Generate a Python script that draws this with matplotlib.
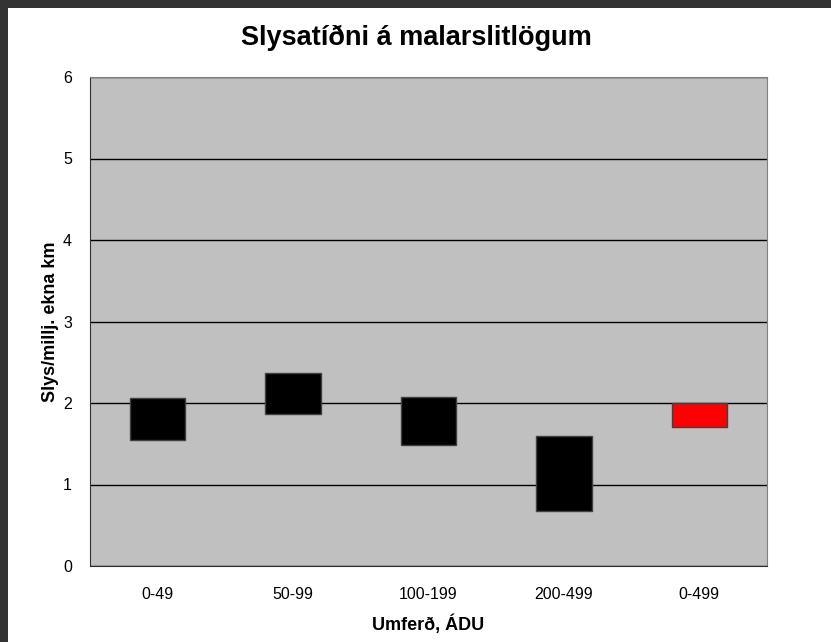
import matplotlib
matplotlib.use("Agg")
import matplotlib.pyplot as plt
from matplotlib.patches import Rectangle

plt.rcParams['font.family'] = ['Liberation Sans', 'DejaVu Sans']

categories = ["0-49", "50-99", "100-199", "200-499", "0-499"]
low = [1.55, 1.87, 1.49, 0.67, 1.71]
high = [2.06, 2.37, 2.07, 1.60, 2.00]
colors = ["black", "black", "black", "black", "#FF0000"]

fig = plt.figure(figsize=(8.31, 6.42), dpi=100)
fig.patch.set_facecolor("#333333")
fig.patches.append(Rectangle((8 / 831, 0), 1, 1 - 8 / 642, transform=fig.transFigure,
                             facecolor="white", edgecolor="none", zorder=-1))

ax = fig.add_axes([90 / 831, 1 - 566 / 642, 677 / 831, 489 / 642])
ax.set_facecolor("#C0C0C0")

x = range(len(categories))
heights = [h - l for h, l in zip(high, low)]
ax.bar(x, heights, bottom=low, width=0.41, color=colors,
       edgecolor="#404040", linewidth=1, zorder=3)

ax.set_xlim(-0.5, len(categories) - 0.5)
ax.set_ylim(0, 6)
ax.set_yticks(range(7))
ax.set_xticks(list(x))
ax.set_xticklabels(categories)
ax.yaxis.grid(True, color="black", linewidth=1)
ax.set_axisbelow(True)
ax.tick_params(length=0, labelsize=11.5)
ax.tick_params(axis="y", pad=13)
ax.tick_params(axis="x", pad=15)

for s in ["left", "bottom"]:
    ax.spines[s].set_color("#303030")
for s in ["top", "right"]:
    ax.spines[s].set_color("#808080")

fig.text(416 / 831, 1 - 38 / 642, "Slysatíðni á malarslitlögum", fontsize=19.5,
         fontweight="bold", ha="center", va="center")
ax.set_xlabel("Umferð, ÁDU", fontsize=13, fontweight="bold", labelpad=9)
ax.set_ylabel("Slys/millj. ekna km", fontsize=13, fontweight="bold", labelpad=3)

fig.savefig("out.png", dpi=100, facecolor=fig.get_facecolor())
